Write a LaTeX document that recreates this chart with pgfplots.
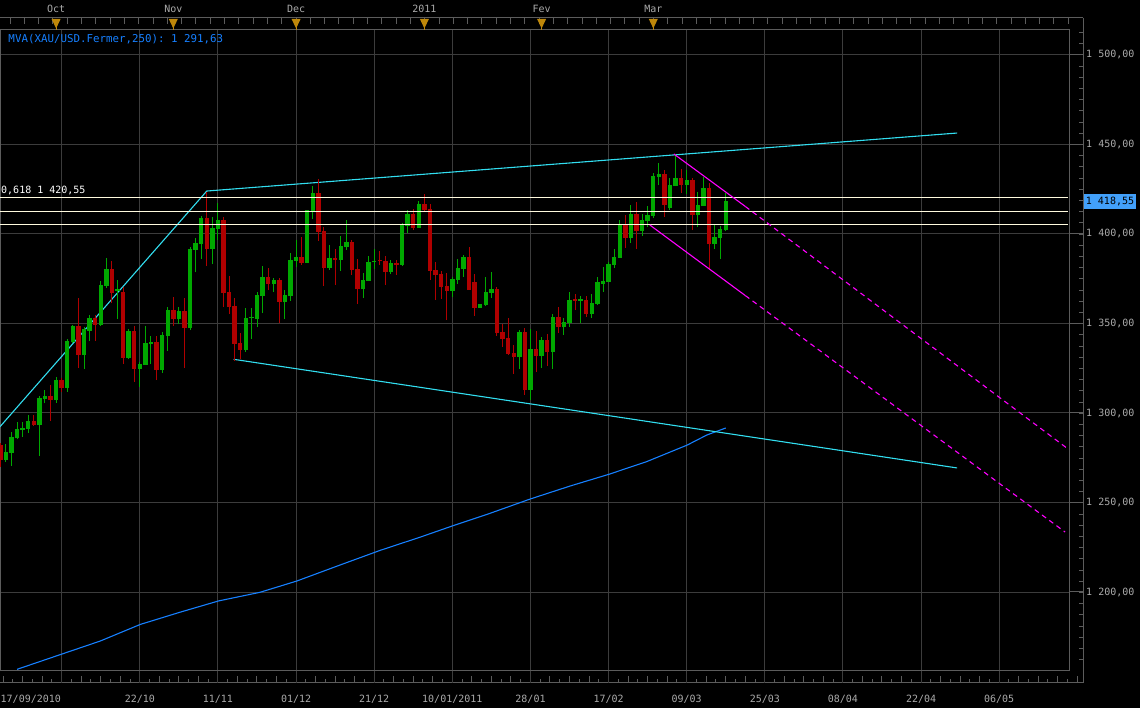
\documentclass[border=0pt]{standalone}
\usepackage{fontspec}
\setmonofont{DejaVu Sans Mono}
\usepackage{pgfplots}
\usepackage{pgfplotstable}
\pgfplotsset{compat=1.18}
\definecolor{gridgray}{RGB}{60,60,60}
\definecolor{axisgray}{RGB}{92,92,92}
\definecolor{labgray}{RGB}{170,170,170}
\definecolor{upgreen}{RGB}{0,168,0}
\definecolor{dnred}{RGB}{176,0,0}
\definecolor{trendcyan}{RGB}{50,222,240}
\definecolor{mvablue}{RGB}{22,128,255}
\definecolor{chmag}{RGB}{255,0,255}
\definecolor{fibwhite}{RGB}{255,250,222}
\definecolor{tagblue}{RGB}{66,160,250}
\definecolor{gold}{RGB}{190,135,10}

\pgfplotstableread{
k o h l c
1 1273.7 1282.6 1272.5 1278.2
2 1277.8 1289.3 1270.5 1286.6
3 1285.8 1294.7 1285.3 1291.0
4 1290.5 1294.9 1286.7 1291.8
5 1291.2 1298.7 1289.0 1295.5
7 1293.3 1309.5 1276.1 1308.5
8 1307.8 1312.8 1305.4 1309.5
10 1307.2 1320.1 1305.7 1318.4
12 1314.1 1341.3 1311.9 1340.2
13 1339.8 1349.1 1338.9 1348.6
15 1332.4 1347.8 1324.5 1346.7
16 1345.8 1354.7 1340.2 1352.8
18 1349.1 1373.7 1348.6 1371.3
19 1370.9 1386.7 1370.0 1380.4
21 1368.3 1374.3 1352.5 1369.0
23 1330.7 1346.7 1330.1 1346.0
25 1324.5 1328.3 1314.7 1327.3
26 1326.8 1348.6 1326.8 1339.3
27 1338.5 1343.0 1327.3 1339.6
29 1324.0 1345.0 1322.5 1343.5
30 1343.0 1359.4 1334.8 1357.5
32 1352.5 1359.4 1349.7 1356.9
34 1347.3 1392.9 1346.3 1391.6
35 1391.1 1397.8 1378.6 1395.0
36 1394.4 1410.0 1386.0 1408.9
38 1391.6 1409.5 1383.2 1403.3
39 1402.8 1417.3 1396.6 1407.8
44 1335.2 1358.6 1334.1 1353.0
45 1353.0 1358.6 1341.3 1353.6
46 1352.5 1367.6 1348.0 1365.9
47 1365.3 1382.1 1355.8 1375.9
49 1372.0 1375.4 1367.6 1374.3
51 1362.0 1368.7 1352.5 1365.9
52 1365.3 1389.4 1362.6 1385.5
53 1385.1 1396.6 1381.6 1387.1
55 1383.8 1413.4 1383.8 1413.4
56 1412.8 1426.8 1408.3 1422.9
59 1381.0 1393.8 1379.9 1386.6
61 1385.5 1398.8 1379.3 1393.3
62 1392.7 1407.8 1391.0 1395.5
65 1369.2 1378.2 1364.2 1374.3
66 1373.7 1387.7 1373.7 1384.3
67 1384.3 1391.6 1380.4 1384.9
70 1378.8 1385.5 1377.7 1383.8
72 1382.7 1406.2 1382.2 1405.1
73 1404.5 1413.4 1400.6 1411.2
75 1403.4 1418.5 1403.4 1416.8
81 1368.2 1376.0 1364.8 1374.9
82 1374.3 1386.1 1372.1 1381.0
83 1380.4 1388.3 1376.0 1387.2
86 1358.7 1360.9 1358.7 1360.9
87 1360.4 1376.0 1359.8 1367.6
88 1367.0 1378.8 1364.3 1369.3
93 1331.3 1346.4 1324.6 1345.3
95 1312.9 1347.0 1307.3 1335.8
97 1331.9 1342.5 1325.2 1340.8
99 1334.1 1355.3 1324.6 1353.7
101 1348.0 1353.1 1343.6 1350.8
102 1350.3 1367.6 1348.0 1363.1
104 1362.8 1365.3 1350.3 1363.6
106 1355.3 1366.5 1353.1 1361.4
107 1360.9 1376.0 1360.3 1373.2
108 1372.1 1381.5 1367.6 1373.7
109 1373.2 1384.3 1373.2 1383.2
110 1382.7 1391.6 1381.0 1387.1
111 1386.6 1407.8 1386.6 1405.0
113 1397.7 1416.2 1395.0 1411.1
115 1401.7 1411.1 1398.9 1407.8
116 1407.3 1415.6 1403.9 1410.6
117 1410.0 1434.1 1408.9 1432.4
118 1431.8 1439.6 1427.3 1433.5
120 1414.5 1431.3 1413.4 1427.3
121 1426.8 1444.7 1426.8 1431.3
123 1427.4 1435.7 1422.3 1430.1
125 1410.6 1423.4 1403.9 1416.2
126 1415.6 1431.8 1415.6 1425.7
128 1394.4 1405.0 1391.6 1398.3
129 1397.8 1404.4 1386.0 1402.8
130 1402.2 1422.9 1401.7 1418.55
}\upcandles

\pgfplotstableread{
k o h l c
0 1282.1 1283.0 1270.0 1273.7
6 1295.5 1298.7 1293.0 1293.3
9 1309.5 1315.6 1295.5 1307.2
11 1318.4 1319.7 1311.9 1314.1
14 1348.6 1364.0 1325.3 1332.4
17 1353.0 1354.7 1340.2 1349.1
20 1380.4 1384.9 1361.2 1367.2
22 1367.7 1370.5 1327.3 1330.7
24 1345.8 1348.6 1317.5 1324.5
28 1339.6 1343.0 1318.4 1324.0
31 1357.5 1364.6 1348.7 1352.5
33 1356.9 1364.0 1325.3 1347.6
37 1408.9 1423.6 1382.1 1391.6
40 1407.8 1409.5 1359.4 1367.0
41 1367.6 1376.5 1355.3 1359.2
42 1359.8 1364.2 1329.0 1338.5
43 1339.1 1344.7 1330.2 1335.2
48 1375.9 1381.0 1368.7 1372.0
50 1374.3 1375.4 1350.2 1362.0
54 1387.1 1398.3 1382.7 1383.8
57 1422.9 1430.7 1396.1 1401.1
58 1401.6 1403.9 1370.9 1381.0
60 1386.6 1391.6 1371.5 1385.5
63 1395.5 1396.6 1377.1 1379.9
64 1380.4 1386.0 1360.9 1369.2
68 1385.5 1390.5 1382.7 1385.0
69 1385.0 1387.7 1371.5 1378.8
71 1383.8 1385.5 1377.1 1382.7
74 1411.2 1414.0 1402.3 1403.4
76 1416.8 1422.4 1412.9 1413.4
77 1414.0 1416.8 1374.3 1379.4
78 1379.9 1384.4 1363.2 1377.1
79 1377.7 1379.4 1363.7 1370.4
80 1371.0 1378.2 1352.0 1368.2
84 1387.2 1392.8 1368.8 1368.8
85 1373.2 1377.7 1354.2 1358.7
89 1369.3 1370.4 1343.1 1344.7
90 1345.3 1349.8 1336.9 1341.4
91 1341.9 1353.1 1332.4 1333.0
92 1333.6 1338.0 1321.8 1331.3
94 1345.3 1347.5 1310.1 1312.9
96 1335.8 1345.9 1322.9 1331.9
98 1340.8 1344.2 1326.3 1334.1
100 1353.7 1359.3 1344.7 1348.1
103 1363.6 1366.5 1357.5 1362.8
105 1363.1 1365.3 1353.6 1355.3
112 1405.0 1410.6 1392.2 1397.7
114 1411.1 1417.9 1391.6 1401.7
119 1433.5 1435.7 1409.5 1416.2
122 1431.3 1436.3 1422.9 1427.4
124 1430.1 1431.3 1402.2 1410.6
127 1425.7 1428.5 1380.4 1394.4
}\dncandles

\begin{document}
\begin{tikzpicture}
% pixel frame: x right, y down, origin top-left of picture
\begin{scope}[x=1pt,y=-1pt,shift={(0pt,671pt)}]
  \fill[black] (0,0) rectangle (1140,708);
\end{scope}

\begin{axis}[
  scale only axis, width=1069pt, height=641pt,
  at={(0pt,0pt)}, anchor=south west,
  xmin=-0.054, xmax=191.5, ymin=1155.87, ymax=1513.97,
  axis line style={draw=axisgray, line width=1pt},
  xtick={11,25,...,179}, ytick={1200,1250,...,1500},
  xticklabels={}, yticklabels={}, major tick length=0pt,
  grid=major, major grid style={draw=gridgray, line width=1pt},
  clip=false,
]
% 250-day moving average
\addplot[mvablue, line width=1.1pt] coordinates {
(3,1156.8) (11.1,1165.4) (17.9,1172.6) (25.1,1181.9) (32.2,1188.7) (39.1,1195.0)
(46.5,1199.8) (53.1,1206.1) (60.9,1215.1) (68.1,1223.3) (75.2,1230.6) (81,1236.9)
(87.8,1244.0) (95,1252.0) (102.1,1259.2) (109.1,1265.8) (115.8,1272.8) (123.1,1282.1)
(126.6,1287.7) (130,1291.63)};
% trend lines
\addplot[trendcyan, line width=1.1pt] coordinates {(-0.054,1292.35) (37,1424.0) (171.45,1456.4)};
\addplot[trendcyan, line width=1.1pt] coordinates {(41.8,1330.0) (171.45,1269.3)};
% candles: wicks
\addplot[draw=none, mark=none, error bars/.cd, y dir=plus, y explicit, error mark=none,
  error bar style={draw=upgreen, line width=1pt}]
  table[x=k, y=l, y error plus expr={\thisrow{h}-\thisrow{l}}] {\upcandles};
\addplot[draw=none, mark=none, error bars/.cd, y dir=plus, y explicit, error mark=none,
  error bar style={draw=dnred, line width=1pt}]
  table[x=k, y=l, y error plus expr={\thisrow{h}-\thisrow{l}}] {\dncandles};
% candles: bodies
\addplot[draw=none, mark=none, error bars/.cd, y dir=plus, y explicit, error mark=none,
  error bar style={draw=upgreen, line width=4.4pt}]
  table[x=k, y=o, y error plus expr={max(\thisrow{c}-\thisrow{o},0.6)}] {\upcandles};
\addplot[draw=none, mark=none, error bars/.cd, y dir=plus, y explicit, error mark=none,
  error bar style={draw=dnred, line width=4.4pt}]
  table[x=k, y=c, y error plus expr={max(\thisrow{o}-\thisrow{c},0.6)}] {\dncandles};
% Fibonacci levels
\addplot[fibwhite, line width=1.3pt] coordinates {(-0.054,1420.55) (191.3,1420.55)};
\addplot[fibwhite, line width=1.3pt] coordinates {(-0.054,1412.7) (191.3,1412.7)};
\addplot[fibwhite, line width=1.3pt] coordinates {(-0.054,1405.4) (191.3,1405.4)};
% descending channel
\addplot[chmag, line width=1.1pt] coordinates {(120.7,1444.7) (133.5,1415.4)};
\addplot[chmag, line width=1.1pt, dash pattern=on 5pt off 4pt] coordinates {(133.5,1415.4) (191.5,1279.5)};
\addplot[chmag, line width=1.1pt] coordinates {(116.4,1405.0) (133.5,1365.6)};
\addplot[chmag, line width=1.1pt, dash pattern=on 5pt off 4pt] coordinates {(133.5,1365.6) (190.8,1233.5)};
\end{axis}

\begin{scope}[x=1pt,y=-1pt,shift={(0pt,671pt)}, font=\ttfamily\fontsize{10}{12}\selectfont]
  % top strip
  \draw[axisgray, line width=1pt] (0,18) -- (1083,18);
  \foreach \x in {10,24.3,...,1080} \draw[axisgray, line width=1pt] (\x,18) -- (\x,24);
  \foreach \x/\t in {56.1/Oct,173.3/Nov,296.1/Dec,424.4/2011,541.6/Fev,653.3/Mar}{
    \fill[gold] (\x-4.5,19) -- (\x+4.5,19) -- (\x,28.5) -- cycle;
    \draw[gold, line width=0.8pt] (\x,27) -- (\x,30);
    \node[labgray] at (\x,9) {\t};
  }
  % right strip
  \draw[axisgray, line width=1pt] (1083.3,18) -- (1083.3,683);
  \foreach \y in {32.6,43.8,...,670} \draw[axisgray, line width=1pt] (1079,\y) -- (1083.3,\y);
  \foreach \y/\t in {55/{1 500,00},144.5/{1 450,00},234/{1 400,00},323.5/{1 350,00},413/{1 300,00},502.5/{1 250,00},592/{1 200,00}}{
    \draw[axisgray, line width=1pt] (1069.5,\y) -- (1083.3,\y);
    \node[labgray, anchor=west, inner sep=0pt] at (1086,\y) {\t};
  }
  \fill[tagblue] (1084,194) rectangle (1136,209);
  \node[black] at (1110,201.5) {1 418,55};
  % bottom strip
  \draw[axisgray, line width=1pt] (0,683) -- (1083.3,683);
  \foreach \x in {3.1,22.63,...,1080} \draw[axisgray, line width=1pt] (\x,683) -- (\x,676.5);
  \foreach \x in {12.86,32.39,...,1080} \draw[axisgray, line width=1pt] (\x,683) -- (\x,679.5);
  \foreach \x in {61.7,139.8,217.95,296.1,374.2,452.3,530.5,608.6,686.7,764.8,842.9,921.1,999.2}{
    \draw[gridgray, line width=1pt] (\x,671) -- (\x,683);
  }
  \node[labgray] at (139.8,699) {22/10};
  \node[labgray] at (217.95,699) {11/11};
  \node[labgray] at (296.1,699) {01/12};
  \node[labgray] at (374.2,699) {21/12};
  \node[labgray] at (452.3,699) {10/01/2011};
  \node[labgray] at (530.5,699) {28/01};
  \node[labgray] at (608.6,699) {17/02};
  \node[labgray] at (686.7,699) {09/03};
  \node[labgray] at (764.8,699) {25/03};
  \node[labgray] at (842.9,699) {08/04};
  \node[labgray] at (921.1,699) {22/04};
  \node[labgray] at (999.2,699) {06/05};
  \node[labgray, anchor=west, inner sep=0pt] at (0.5,699) {17/09/2010};
  % annotations
  \node[mvablue, anchor=west, inner sep=0pt, font=\ttfamily\fontsize{10.8}{12}\selectfont] at (8.3,39.5) {MVA(XAU/USD.Fermer,250): 1 291,63};
  \node[white, anchor=west, inner sep=0pt] at (1,190.5) {0,618 1 420,55};
  % final bounding box = the 1140 x 708 frame
  \pgfresetboundingbox
  \path[use as bounding box] (0,0) rectangle (1140,708);
\end{scope}
\end{tikzpicture}
\end{document}
